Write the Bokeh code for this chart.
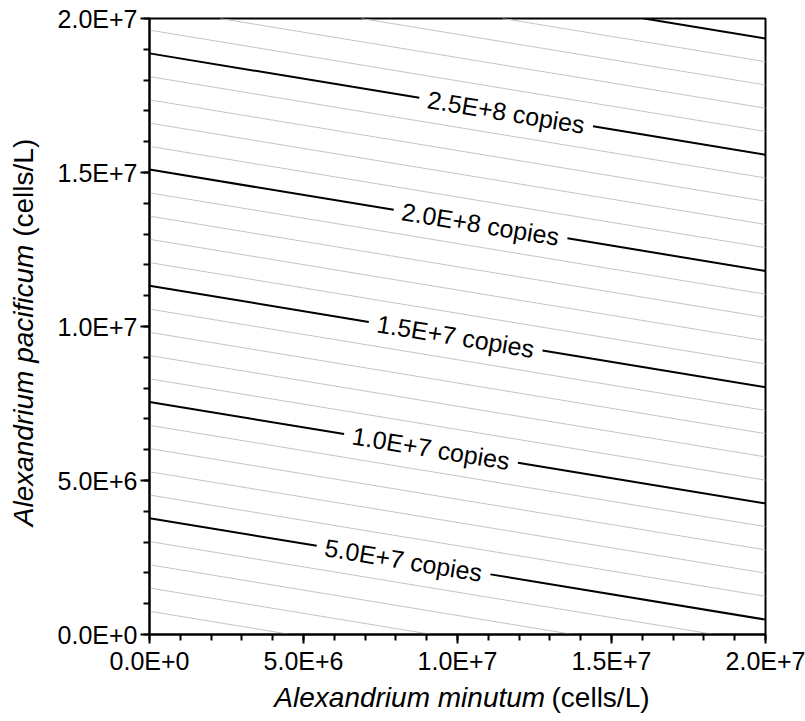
import math
from bokeh.plotting import figure
from bokeh.layouts import row, column
from bokeh.models import Range1d, FixedTicker, ColumnDataSource
from bokeh.embed import file_html
from bokeh.resources import INLINE

# ---- data ----
copies_per_cell_minutum = 2.18      # copies per A. minutum cell
copies_per_cell_pacificum = 13.25   # copies per A. pacificum cell
contour_step = 1.0e7                # minor contour interval (copies)
n_minor = 30
major_levels = [5.0e7, 1.0e8, 1.5e8, 2.0e8, 2.5e8, 3.0e8]
major_labels = ["5.0E+7 copies", "1.0E+7 copies", "1.5E+7 copies",
                "2.0E+8 copies", "2.5E+8 copies", None]
label_x = [8.25e6, 9.14e6, 9.94e6, 10.75e6, 11.58e6, None]
label_halfgap = 2.82e6

axis_max = 2.0e7
tick_values = [0, 5.0e6, 1.0e7, 1.5e7, 2.0e7]
tick_labels = ["0.0E+0", "5.0E+6", "1.0E+7", "1.5E+7", "2.0E+7"]
minor_tick_values = [i * 1.0e6 for i in range(0, 21)]

x_title = ("Alexandrium minutum", "(cells/L)")
y_title = ("Alexandrium pacificum", "(cells/L)")

qm, qp = copies_per_cell_minutum, copies_per_cell_pacificum


def y_of(level, x):
    return (level - qm * x) / qp


def segment(level):
    x0 = max(0.0, (level - qp * axis_max) / qm)
    x1 = min(axis_max, level / qm)
    return x0, x1


FONT = "Liberation Sans"
FW = FH = 616
YW = 54            # width of the y-title strip
BL, BT, BR, BB = 94, 18, 40, 45
XH = 35            # height of the x-title strip
PW = BL + FW + BR
PH = BT + FH + BB
TOTAL_H = PH + XH

p = figure(frame_width=FW, frame_height=FH, output_backend="svg",
           toolbar_location=None, x_range=Range1d(0, axis_max),
           y_range=Range1d(0, axis_max),
           min_border_left=BL, min_border_top=BT,
           min_border_right=BR, min_border_bottom=BB)
p.xgrid.visible = False
p.ygrid.visible = False
p.outline_line_color = "black"
p.outline_line_width = 2
p.outline_line_alpha = 1.0

# minor contours
mxs, mys = [], []
for n in range(1, n_minor + 1):
    lev = n * contour_step
    if any(abs(lev - m) < 1 for m in major_levels):
        continue
    x0, x1 = segment(lev)
    mxs.append([x0, x1])
    mys.append([y_of(lev, x0), y_of(lev, x1)])
p.multi_line(mxs, mys, line_color="#c4c4c4", line_width=1)

# major contours, broken around labels
Mxs, Mys = [], []
tx, ty, tt = [], [], []
for lev, lab, lx in zip(major_levels, major_labels, label_x):
    x0, x1 = segment(lev)
    if lab is None:
        Mxs.append([x0, x1]); Mys.append([y_of(lev, x0), y_of(lev, x1)])
        continue
    a, b = lx - label_halfgap, lx + label_halfgap
    Mxs.append([x0, a]); Mys.append([y_of(lev, x0), y_of(lev, a)])
    Mxs.append([b, x1]); Mys.append([y_of(lev, b), y_of(lev, x1)])
    tx.append(lx); ty.append(y_of(lev, lx)); tt.append(lab)
p.multi_line(Mxs, Mys, line_color="black", line_width=2)

angle = -math.atan(qm / qp)
src = ColumnDataSource(dict(x=tx, y=ty, t=tt))
p.text(x="x", y="y", text="t", source=src, angle=angle,
       text_align="center", text_baseline="middle",
       text_font_size="25px", text_color="black",
       text_font={"value": FONT})

for ax in (p.xaxis[0], p.yaxis[0]):
    ax.ticker = FixedTicker(ticks=tick_values, minor_ticks=minor_tick_values)
    ax.major_label_overrides = {v: s for v, s in zip(tick_values, tick_labels)}
    ax.major_label_text_font = FONT
    ax.major_label_text_font_size = "25px"
    ax.major_label_text_color = "black"
    ax.axis_line_width = 2
    ax.axis_line_color = "black"
    ax.major_tick_line_width = 2
    ax.minor_tick_line_width = 2
    ax.major_tick_in = 0
    ax.major_tick_out = 9
    ax.minor_tick_in = 0
    ax.minor_tick_out = 6
    ax.major_label_standoff = 3
p.yaxis[0].major_label_orientation = "horizontal"

# ---- axis titles (italic species name + upright unit) ----
TS = 28
em_it_x, em_up, em_it_y, em_sp = 9.669, 3.5, 10.058, 0.278


def strip(w, h):
    f = figure(width=w, height=h, output_backend="svg", toolbar_location=None,
               x_range=Range1d(0, w), y_range=Range1d(0, h),
               x_axis_type=None, y_axis_type=None, min_border=0,
               outline_line_color=None)
    f.xgrid.visible = False
    f.ygrid.visible = False
    return f


common = dict(text_font={"value": FONT}, text_font_size=f"{TS}px",
              text_color="black", text_baseline="middle")

xf = strip(PW, XH)
cx = BL + FW / 2 - 2
sx = cx - (em_it_x + em_sp + em_up) * TS / 2 + em_it_x * TS
xf.text(x=[sx], y=[XH - 18], text=[x_title[0]], text_align="right",
        text_font_style="italic", **common)
xf.text(x=[sx + em_sp * TS], y=[XH - 18], text=[x_title[1]],
        text_align="left", **common)

yf = strip(YW, TOTAL_H)
cy = TOTAL_H - 332
sy = cy - (em_it_y + em_sp + em_up) * TS / 2 + em_it_y * TS
yf.text(x=[23], y=[sy], text=[y_title[0]], text_align="right",
        angle=math.pi / 2, text_font_style="italic", **common)
yf.text(x=[23], y=[sy + em_sp * TS], text=[y_title[1]], text_align="left",
        angle=math.pi / 2, **common)

layout = row(yf, column(p, xf, spacing=0), spacing=0)
open("out.html", "w").write(file_html(layout, INLINE))
